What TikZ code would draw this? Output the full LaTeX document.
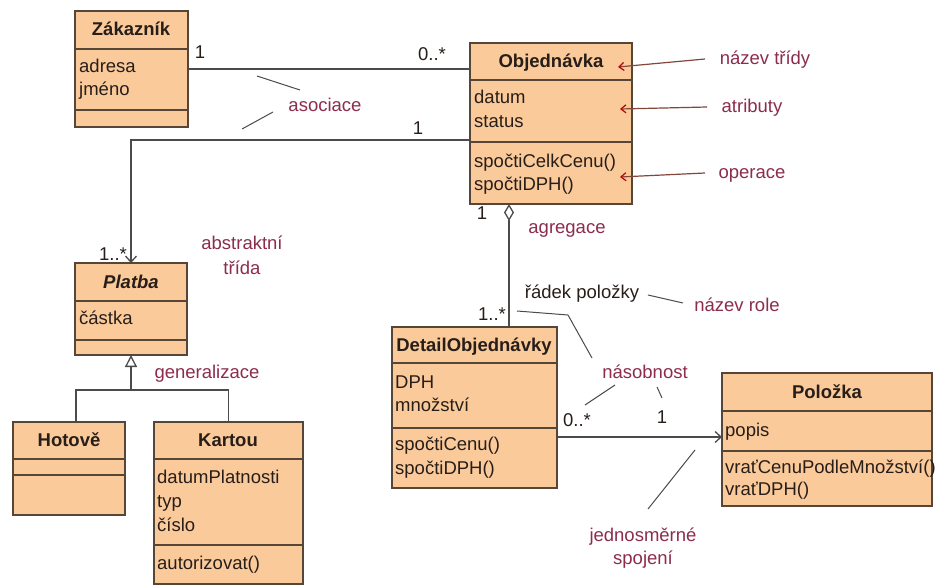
\documentclass[tikz,border=0pt]{standalone}
\usepackage{fontspec}
\setmainfont{Liberation Sans}
\usetikzlibrary{arrows.meta}
\definecolor{boxfill}{RGB}{250,202,155}
\definecolor{boxline}{RGB}{85,70,55}
\definecolor{notec}{RGB}{140,45,75}
\definecolor{conn}{RGB}{75,75,75}
\definecolor{txt}{RGB}{40,30,25}
\definecolor{arrline}{RGB}{130,70,60}
\newcommand\dgfs{\fontsize{18.5}{23}\selectfont}
\begin{document}
\begin{tikzpicture}[x=1pt,y=-1pt,
  cls/.style={draw=boxline, fill=boxfill, line width=1.2pt, rectangle, inner sep=0pt, outer sep=0pt, anchor=north west},
  ttl/.style={font=\dgfs\bfseries, text=txt, inner sep=0pt, text height=12pt, text depth=0pt},
  mem/.style={font=\dgfs, text=txt, inner sep=0pt, text height=12pt, text depth=0pt, anchor=west},
  csep/.style={draw=boxline, line width=1.2pt},
  assoc/.style={draw=conn, line width=1.3pt},
  mult/.style={font=\dgfs, text=txt, inner sep=0pt, text height=12pt, text depth=0pt},
  notetxt/.style={font=\dgfs, text=notec, inner sep=0pt, text height=12pt, text depth=0pt},
  leader/.style={draw=conn, line width=1pt},
  notearrow/.style={draw=arrline, line width=1.2pt, -{Straight Barb[length=5pt,width=8pt,color=red!75!black]}}
]
\fill[white] (0,0) rectangle (939,586);
\useasboundingbox (0,0) rectangle (939,586);

% ---------- classes ----------
% Zakaznik
\node[cls, minimum width=113pt, minimum height=116pt] (zak) at (75,11) {};
\draw[csep] (75,49) -- (188,49);
\draw[csep] (75,110) -- (188,110);
\node[ttl] (zakT) at (131,30) {Zákazník};
\node[mem] (zakA1) at (79,66) {adresa};
\node[mem] (zakA2) at (79,89) {jméno};

% Objednavka
\node[cls, minimum width=162pt, minimum height=161pt] (obj) at (470,43) {};
\draw[csep] (470,80) -- (632,80);
\draw[csep] (470,142) -- (632,142);
\node[ttl] (objT) at (551,61) {Objednávka};
\node[mem] (objA1) at (474,97) {datum};
\node[mem] (objA2) at (474,121) {status};
\node[mem] (objO1) at (474,161) {spočtiCelkCenu()};
\node[mem] (objO2) at (474,184) {spočtiDPH()};

% Platba
\node[cls, minimum width=112pt, minimum height=92pt] (plat) at (75,263) {};
\draw[csep] (75,301) -- (187,301);
\draw[csep] (75,340) -- (187,340);
\node[ttl, font=\dgfs\bfseries\itshape] (platT) at (131,282) {Platba};
\node[mem] (platA1) at (79,318) {částka};

% Hotove
\node[cls, minimum width=112pt, minimum height=93pt] (hot) at (13,422) {};
\draw[csep] (13,459) -- (125,459);
\draw[csep] (13,475) -- (125,475);
\node[ttl] (hotT) at (69,440) {Hotově};

% Kartou
\node[cls, minimum width=149pt, minimum height=162pt] (kar) at (154,422) {};
\draw[csep] (154,459) -- (303,459);
\draw[csep] (154,545) -- (303,545);
\node[ttl] (karT) at (228,440) {Kartou};
\node[mem] (karA1) at (157,477) {datumPlatnosti};
\node[mem] (karA2) at (157,501) {typ};
\node[mem] (karA3) at (157,525) {číslo};
\node[mem] (karO1) at (157,563) {autorizovat()};

% DetailObjednavky
\node[cls, minimum width=165pt, minimum height=161pt] (det) at (392,327) {};
\draw[csep] (392,363) -- (557,363);
\draw[csep] (392,428) -- (557,428);
\node[ttl] (detT) at (474,345) {DetailObjednávky};
\node[mem] (detA1) at (395,382) {DPH};
\node[mem] (detA2) at (395,405) {množství};
\node[mem] (detO1) at (395,444) {spočtiCenu()};
\node[mem] (detO2) at (395,468) {spočtiDPH()};

% Polozka
\node[cls, minimum width=210pt, minimum height=133pt] (pol) at (722,373) {};
\draw[csep] (722,411) -- (932,411);
\draw[csep] (722,451) -- (932,451);
\node[ttl] (polT) at (827,392) {Položka};
\node[mem] (polA1) at (725,430) {popis};
\node[mem] (polO1) at (725,467) {vraťCenuPodleMnožství()};
\node[mem] (polO2) at (725,489) {vraťDPH()};

% ---------- connectors ----------
\draw[assoc] (zak.east) -- (zak.east -| obj.west);
\draw[assoc, -{Straight Barb[length=6pt,width=11pt]}] ([yshift=-97pt]obj.north west) -| (plat.north);
\draw[assoc, {Diamond[open,length=17pt,width=10pt,fill=white]}-] ([xshift=39pt]obj.south west) -- ([xshift=117pt]det.north west);
\draw[assoc, -{Straight Barb[length=6pt,width=11pt]}] ([yshift=-110pt]det.north east) -- ([yshift=-64pt]pol.north west);
\coordinate (gj) at (131,390);
\draw[assoc, -{Triangle[open,length=12pt,width=12pt,fill=white]}] (gj) -- (plat.south);
\draw[assoc] ([xshift=63pt]hot.north west) |- (gj) -| (kar.north);

% multiplicities
\node[mult] (m1) at (200,53) {1};
\node[mult] (m2) at (432,54) {0..*};
\node[mult] (m3) at (418,128) {1};
\node[mult] (m4) at (113,254) {1..*};
\node[mult] (m5) at (482,213) {1};
\node[mult] (m6) at (492,314) {1..*};
\node[mult] (m7) at (577,420) {0..*};
\node[mult] (m8) at (662,417) {1};
\node[mult] (role) at (582,292) {řádek položky};

% ---------- annotations ----------
\node[notetxt] (nAsoc) at (325,105) {asociace};
\draw[leader] (257,76) -- (300,90);
\draw[leader] (242,129) -- (273,112);
\node[notetxt] (nAbs1) at (242,243) {abstraktní};
\node[notetxt] (nAbs2) at (242,268) {třída};
\node[notetxt] (nGen) at (207,372) {generalizace};
\node[notetxt] (nAgr) at (567,227) {agregace};
\node[notetxt] (nRole) at (737,305) {název role};
\draw[leader] (648,295) -- (683,303);
\node[notetxt] (nNas) at (645,372) {násobnost};
\draw[leader] (517,311) -- (568,315) -- (592,358);
\draw[leader] (615,385) -- (585,405);
\draw[leader] (657,387) -- (662,398);
\node[notetxt] (nJed1) at (643,535) {jednosměrné};
\node[notetxt] (nJed2) at (643,558) {spojení};
\draw[leader] (695,450) -- (648,509);
\node[notetxt] (nTr) at (765,58) {název třídy};
\node[notetxt] (nAt) at (752,106) {atributy};
\node[notetxt] (nOp) at (752,172) {operace};
\draw[notearrow] (705,59) -- (618,67);
\draw[notearrow] (707,107) -- (620,109);
\draw[notearrow] (705,173) -- (620,177);
\end{tikzpicture}
\end{document}
